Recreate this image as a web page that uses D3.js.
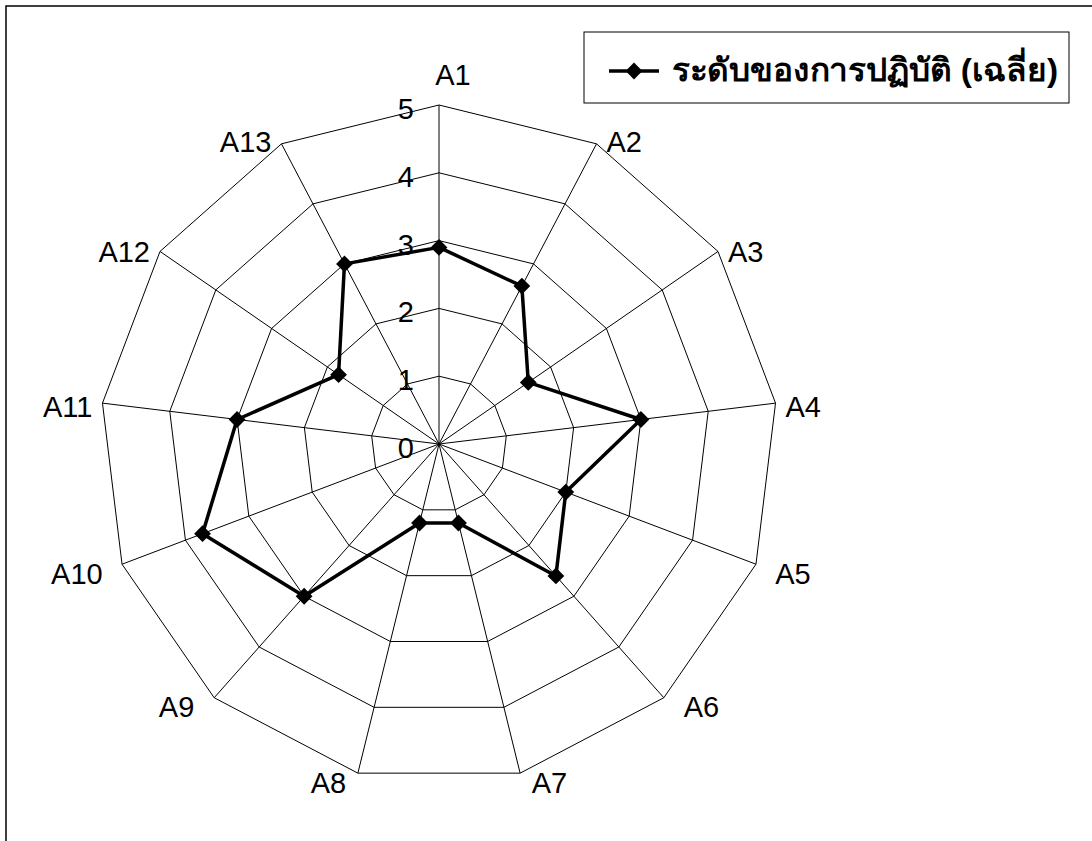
<!DOCTYPE html>
<html>
<head>
<meta charset="utf-8">
<script src="https://cdn.jsdelivr.net/npm/d3@7"></script>
<style>
  body { margin: 0; background: #fff; }
  svg { display: block; }
</style>
</head>
<body>
<svg id="chart" width="1092" height="841"></svg>
<script>
// Practice items (spokes of the radar)
const categories = ["A1", "A2", "A3", "A4", "A5", "A6", "A7", "A8", "A9", "A10", "A11", "A12", "A13"];
// Mean practice level for each item
const seriesName = "ระดับของการปฏิบัติ (เฉลี่ย)";
const values = [2.9, 2.63, 1.6, 3.0, 2.0, 2.6, 1.2, 1.2, 3.0, 3.73, 3.0, 1.8, 3.0];
// Radial axis levels
const levels = [0, 1, 2, 3, 4, 5];

const svg = d3.select("#chart");
const cx = 439, cy = 444, R = 339;
const font = "'Liberation Sans', Arial, sans-serif";

// outer chart frame (runs past the right and bottom edges)
svg.append("rect")
  .attr("x", 6).attr("y", 6).attr("width", 1200).attr("height", 1000)
  .attr("fill", "none").attr("stroke", "#000").attr("stroke-width", 1.5);

const r = d3.scaleLinear().domain([0, 5]).range([0, R]);
const angle = d3.scaleLinear().domain([0, categories.length]).range([0, 2 * Math.PI]);

const pt = (i, v) => [cx + r(v) * Math.sin(angle(i)), cy - r(v) * Math.cos(angle(i))];

const g = svg.append("g");

// concentric polygon rings
const ringLine = d3.line();
levels.filter(l => l > 0).forEach(l => {
  const pts = categories.map((c, i) => pt(i, l));
  g.append("path")
    .attr("d", ringLine(pts) + "Z")
    .attr("fill", "none").attr("stroke", "#000").attr("stroke-width", 1);
});

// spokes
categories.forEach((c, i) => {
  const [x, y] = pt(i, 5);
  g.append("line")
    .attr("x1", cx).attr("y1", cy).attr("x2", x).attr("y2", y)
    .attr("stroke", "#000").attr("stroke-width", 1);
});

// radial tick labels along the first spoke
g.selectAll("text.tick")
  .data(levels)
  .join("text")
  .attr("class", "tick")
  .attr("x", cx - 25)
  .attr("y", d => cy - r(d) + 14)
  .attr("text-anchor", "end")
  .attr("font-family", font)
  .attr("font-size", 29)
  .text(d => d);

// category labels outside the outer ring
categories.forEach((c, i) => {
  const a = angle(i);
  const s = Math.sin(a), co = Math.cos(a);
  const [vx, vy] = pt(i, 5);
  const lower = Math.max(0, -co);
  const gap = 10 + 30 * lower * s * s;
  const dy = co < 0 ? 9 : 4 - 7 * co;
  let anchor = "middle", x = vx + 14, y = vy - 30;
  if (s > 0.01) { anchor = "start"; x = vx + gap; y = vy + dy; }
  else if (s < -0.01) { anchor = "end"; x = vx - gap; y = vy + dy; }
  g.append("text")
    .attr("x", x).attr("y", y)
    .attr("dy", "0.36em")
    .attr("text-anchor", anchor)
    .attr("font-family", font)
    .attr("font-size", 29)
    .text(c);
});

// data polygon
const dataPts = values.map((v, i) => pt(i, v));
g.append("path")
  .attr("d", d3.line()(dataPts) + "Z")
  .attr("fill", "none").attr("stroke", "#000").attr("stroke-width", 3.5)
  .attr("stroke-linejoin", "round");

const diamond = d3.symbol().type(d3.symbolDiamond2).size(180);
g.selectAll("path.marker")
  .data(dataPts)
  .join("path")
  .attr("class", "marker")
  .attr("transform", d => `translate(${d[0]},${d[1]})`)
  .attr("d", diamond)
  .attr("fill", "#000");

// legend
const lg = svg.append("g");
lg.append("rect")
  .attr("x", 584).attr("y", 32).attr("width", 485).attr("height", 71)
  .attr("fill", "#fff").attr("stroke", "#000").attr("stroke-width", 1);
lg.append("line")
  .attr("x1", 609).attr("x2", 659).attr("y1", 71).attr("y2", 71)
  .attr("stroke", "#000").attr("stroke-width", 3.5);
lg.append("path")
  .attr("transform", "translate(634,71)")
  .attr("d", diamond)
  .attr("fill", "#000");
lg.append("text")
  .attr("x", 672).attr("y", 81)
  .attr("font-family", font)
  .attr("font-size", 32)
  .attr("font-weight", 600)
  .attr("textLength", 386)
  .attr("lengthAdjust", "spacingAndGlyphs")
  .text(seriesName);
</script>
</body>
</html>
